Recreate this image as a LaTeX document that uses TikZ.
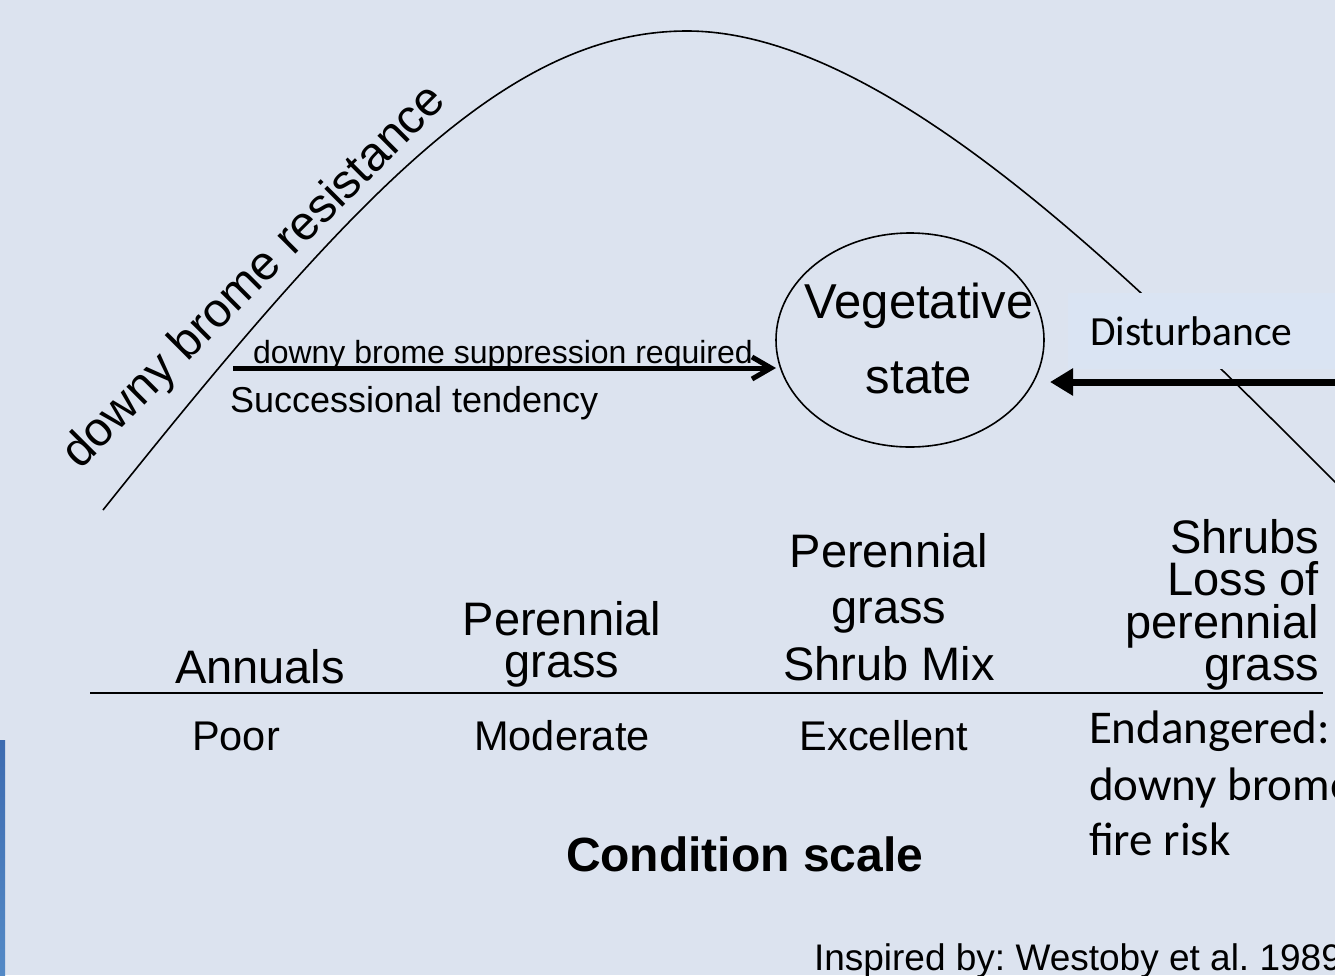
\documentclass[tikz,border=0pt]{standalone}
\usepackage{fontspec}
\setmainfont{Liberation Sans}
\newfontfamily\calibri{Carlito}
\usetikzlibrary{arrows.meta,shapes.geometric}
\newcommand\myfs[1]{\fontsize{#1}{#1}\selectfont}
\definecolor{bgcol}{RGB}{220,227,239}
\definecolor{boxcol}{RGB}{218,228,243}
\definecolor{bartop}{RGB}{61,107,176}
\definecolor{barbot}{RGB}{84,138,198}
\frenchspacing
\begin{document}
\begin{tikzpicture}[x=1pt,y=-1pt,
  lbl/.style={inner sep=0pt,outer sep=0pt,text=black},
  big/.style={lbl,font=\myfs{47}},
  cond/.style={lbl,font=\myfs{41.5}},
  endg/.style={lbl,font=\calibri\myfs{47},anchor=base west},
  curveline/.style={line width=1.6pt,black},
  succarrow/.style={line width=5pt,-{Straight Barb[length=19pt,width=22pt]}},
  distarrow/.style={line width=7pt,{Triangle[length=23pt,width=26pt]}-},
  axisline/.style={line width=2pt,black}]
\clip (0,0) rectangle (1335,975);
\fill[bgcol] (0,0) rectangle (1335,975);
\shade[top color=bartop,bottom color=barbot] (0,740) rectangle (5,975);
% curve
\draw[curveline] (103,510) .. controls (353,197) and (507,31) .. (687,31)
  .. controls (887,31) and (1135,282) .. (1335,482) -- (1385,532);
% disturbance box
\node[fill=boxcol,inner sep=0pt,minimum width=272pt,minimum height=76pt,anchor=north west] (dbox) at (1068,293) {};
\node[lbl,font=\calibri\myfs{41.5},anchor=base west] (dtxt) at (1090,345) {Disturbance};
% vegetative state
\node[ellipse,draw,line width=1.6pt,minimum width=268pt,minimum height=214pt,inner sep=0pt,outer sep=0pt] (veg) at (910,340) {};
\node[lbl,font=\myfs{49},anchor=base] (v1) at (919,318) {Vegetative};
\node[lbl,font=\myfs{49},anchor=base] (v2) at (919,393) {state};
% arrows
\coordinate (succ) at (233,368);
\draw[succarrow] (succ) -- (succ -| veg.west);
\coordinate (dist) at (1340,382);
\draw[distarrow] ([xshift=6pt]dist -| veg.east) -- (dist);
\node[lbl,font=\myfs{32},anchor=base west] (supp) at (253,363) {downy brome suppression required};
\node[lbl,font=\myfs{36},anchor=base west] (succt) at (230,412) {Successional tendency};
\node[lbl,font=\myfs{48},rotate=45,anchor=base west] (res) at (80,470) {downy brome resistance};
% column headings
\node[big,anchor=base] (ann) at (260,683) {Annuals};
\node[big,anchor=base] (pg1) at (562,635) {Perennial};
\node[big,anchor=base] (pg2) at (562,677) {grass};
\node[big,anchor=base] (ps1) at (889,567) {Perennial};
\node[big,anchor=base] (ps2) at (889,623) {grass};
\node[big,anchor=base] (ps3) at (889,680) {Shrub Mix};
\node[big,anchor=base east] (sh1) at (1319,553) {Shrubs};
\node[big,anchor=base east] (sh2) at (1319,595) {Loss of};
\node[big,anchor=base east] (sh3) at (1319,638) {perennial};
\node[big,anchor=base east] (sh4) at (1319,680) {grass};
% axis
\coordinate (axl) at (90,693);
\coordinate (axr) at (1323,693);
\draw[axisline] (axl) -- (axr);
% conditions
\node[cond,anchor=base] (poor) at (236,750) {Poor};
\node[cond,anchor=base] (mod) at (562,750) {Moderate};
\node[cond,anchor=base] (exc) at (884,750) {Excellent};
\node[endg] (en1) at (1089,743) {Endangered:};
\node[endg] (en2) at (1089,800) {downy brome};
\node[endg] (en3) at (1089,855) {fire risk};
\node[lbl,font=\bfseries\myfs{48},anchor=base west] (cs) at (566,871) {Condition scale};
\node[lbl,font=\myfs{37},anchor=base west] (insp) at (814,970) {Inspired by: Westoby et al. 1989};
\end{tikzpicture}
\end{document}
